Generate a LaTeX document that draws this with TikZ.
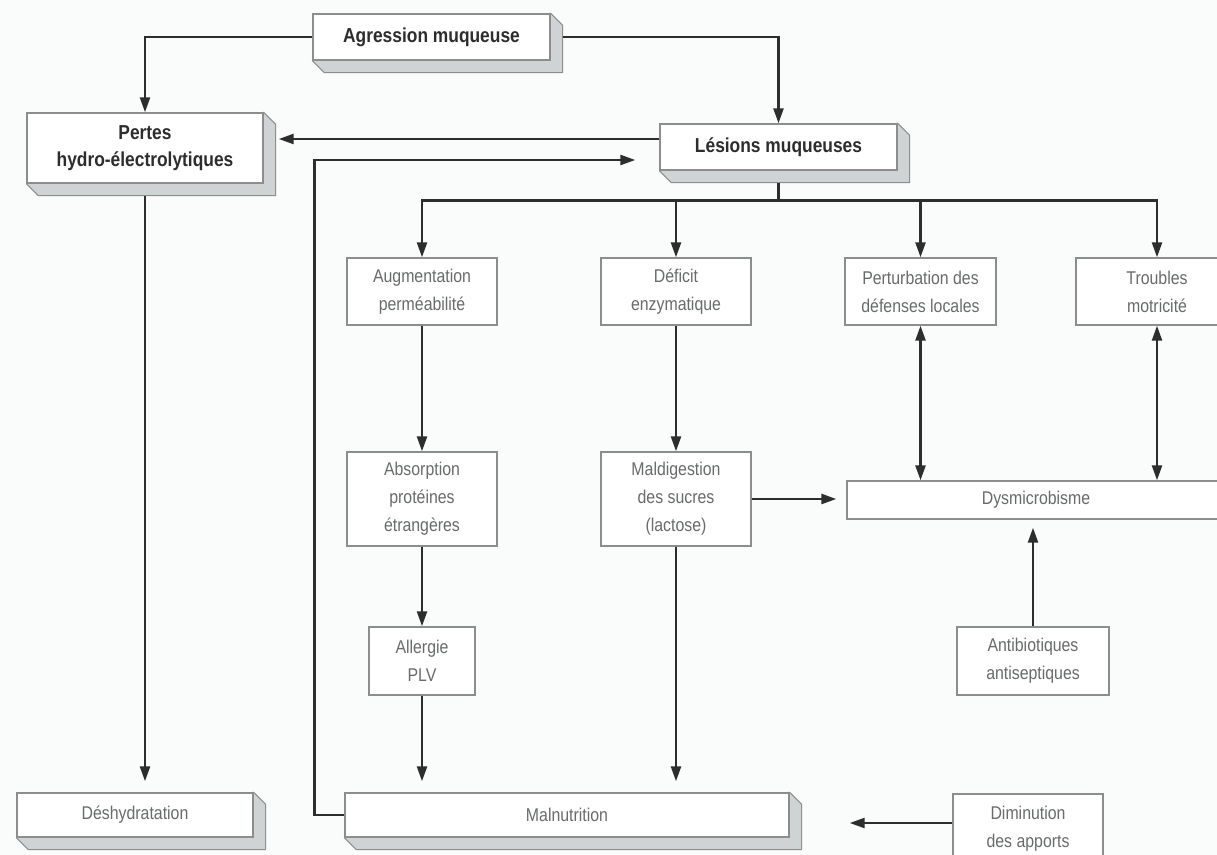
\documentclass[tikz,border=0pt]{standalone}
\usepackage{fontspec}
\newfontfamily\flowfont[FakeStretch=0.86]{Liberation Sans}
\usetikzlibrary{arrows.meta,backgrounds}

\definecolor{paper}{RGB}{250,251,251}
\definecolor{rim}{RGB}{140,142,142}
\definecolor{depth}{RGB}{208,211,211}
\definecolor{ink}{RGB}{45,45,45}
\definecolor{faint}{RGB}{105,107,107}

\begin{document}
\begin{tikzpicture}[
    box/.style={draw=rim, line width=0.8pt, fill=white, inner sep=0pt, align=center,
      font=\flowfont\fontsize{10.5}{16}\selectfont, text=faint},
    main/.style={box, font=\flowfont\bfseries\fontsize{11.5}{15}\selectfont, text=ink},
    link/.style={draw=ink, line width=1.4pt},
    arr/.style={link, -{Triangle[length=0.3cm,width=0.2cm]}},
    both/.style={link, {Triangle[length=0.3cm,width=0.2cm]}-{Triangle[length=0.3cm,width=0.2cm]}},
    slab/.style={fill=depth, draw=rim, line width=0.6pt, line join=round}
  ]
  \useasboundingbox (0,0) rectangle (24.34,-17.1);

  % raised boxes
  \node[main, minimum width=4.74cm, minimum height=0.92cm] (agr) at (8.63,-0.74) {Agression muqueuse};
  \node[main, minimum width=4.72cm, minimum height=1.40cm] (per) at (2.90,-2.96) {Pertes\\hydro-électrolytiques};
  \node[main, minimum width=4.74cm, minimum height=0.92cm] (les) at (15.57,-2.94) {Lésions muqueuses};
  \node[box, minimum width=4.72cm, minimum height=0.88cm] (desh) at (2.70,-16.3) {Déshydratation};
  \node[box, minimum width=8.88cm, minimum height=0.88cm] (maln) at (11.34,-16.3) {Malnutrition};

  % flat boxes
  \node[box, minimum width=3.0cm, minimum height=1.34cm] (aug) at (8.44,-5.83) {Augmentation\\perméabilité};
  \node[box, minimum width=3.0cm, minimum height=1.34cm] (def) at (13.52,-5.83) {Déficit\\enzymatique};
  \node[box, minimum width=3.02cm, minimum height=1.34cm] (pdl) at (18.41,-5.83) {Perturbation des\\défenses locales};
  \node[box, minimum width=3.24cm, minimum height=1.34cm] (tro) at (23.14,-5.83) {Troubles\\motricité};
  \node[box, minimum width=3.0cm, minimum height=1.88cm] (abs) at (8.44,-9.98) {Absorption\\protéines\\étrangères};
  \node[box, minimum width=3.0cm, minimum height=1.88cm] (mald) at (13.52,-9.98) {Maldigestion\\des sucres\\(lactose)};
  \node[box, minimum width=7.56cm, minimum height=0.76cm] (dys) at (20.72,-10.0) {Dysmicrobisme};
  \node[box, minimum width=2.12cm, minimum height=1.36cm] (all) at (8.44,-13.22) {Allergie\\PLV};
  \node[box, minimum width=3.04cm, minimum height=1.36cm] (ant) at (20.66,-13.22) {Antibiotiques\\antiseptiques};
  \node[box, minimum width=3.0cm, minimum height=1.40cm] (dim) at (20.56,-16.58) {Diminution\\des apports};

  \begin{scope}[on background layer]
    \fill[paper] (0,0) rectangle (24.34,-17.1);
    \foreach \n in {agr,per,les,desh,maln}
      \filldraw[slab] (\n.north east) -- ++(0.24,-0.24) |- ([shift={(0.24,-0.24)}]\n.south west)
        -- (\n.south west) -- cycle;
  \end{scope}

  % top level
  \draw[arr] (agr.west) -| (per.north);
  \draw[arr] ([xshift=0.24cm]agr.east) -| (les.north);
  \draw[arr, shorten >=0.3cm] ([yshift=0.16cm]les.west) -- ([yshift=0.16cm]les.west -| per.east);
  \draw[arr] (maln.west) -- ++(-0.6,0) |- ([xshift=-0.48cm,yshift=-0.26cm]les.west);

  \coordinate (split) at ([yshift=-0.6cm]les.south);
  \draw[link] ([yshift=-0.24cm]les.south) -- (split);
  \foreach \n in {aug,def,pdl,tro}
    \draw[arr] (split) -| (\n.north);

  % middle
  \draw[arr] (aug.south) -- (abs.north);
  \draw[arr] (def.south) -- (mald.north);
  \draw[both] (pdl.south) -- (pdl.south |- dys.north);
  \draw[both] (tro.south) -- (tro.south |- dys.north);
  \draw[arr, shorten >=0.2cm] (mald.east) -- (mald.east -| dys.west);
  \draw[arr, shorten >=0.16cm] (ant.north) -- (ant.north |- dys.south);
  \draw[arr] (abs.south) -- (all.north);

  % bottom
  \draw[arr, shorten >=0.22cm] (all.south) -- (all.south |- maln.north);
  \draw[arr, shorten >=0.22cm] (mald.south) -- (mald.south |- maln.north);
  \draw[arr, shorten >=0.22cm] ([yshift=-0.24cm]per.south) -- (per.south |- desh.north);
  \draw[arr, shorten >=1.2cm] ([yshift=0.12cm]dim.west) -- ([yshift=0.12cm]dim.west -| maln.east);
\end{tikzpicture}
\end{document}
